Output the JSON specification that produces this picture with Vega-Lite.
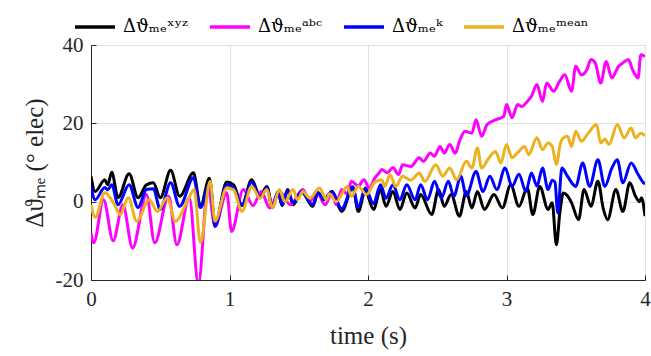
{
  "$schema": "https://vega.github.io/schema/vega-lite/v6.json",
  "width": 554,
  "height": 235,
  "autosize": {"type": "none"},
  "padding": {"left": 91, "top": 45, "right": 6, "bottom": 76},
  "background": "white",
  "datasets": {
    "xyz": [
      {"t":0.00,"v":6.5},{"t":0.03,"v":2.6},{"t":0.10,"v":5.6},{"t":0.12,"v":4.3},{"t":0.15,"v":7.5},{"t":0.195,"v":1.0},
      {"t":0.275,"v":7.1},{"t":0.34,"v":1.0},{"t":0.40,"v":4.3},{"t":0.45,"v":4.8},{"t":0.50,"v":1.0},{"t":0.575,"v":8.0},
      {"t":0.64,"v":1.4},{"t":0.74,"v":7.4},{"t":0.79,"v":-1.2},{"t":0.855,"v":6.0},{"t":0.895,"v":-5.9},{"t":0.98,"v":5.0},
      {"t":1.03,"v":4.3},{"t":1.09,"v":-1.0},{"t":1.16,"v":5.6},{"t":1.22,"v":1.4},{"t":1.27,"v":3.9},{"t":1.31,"v":-1.5},
      {"t":1.35,"v":2.5},{"t":1.38,"v":-1.0},{"t":1.42,"v":3.1},{"t":1.46,"v":-0.8},{"t":1.52,"v":2.6},{"t":1.60,"v":-1.2},
      {"t":1.64,"v":2.3},{"t":1.68,"v":0.5},{"t":1.74,"v":2.6},{"t":1.81,"v":-2.5},{"t":1.89,"v":3.6},{"t":1.93,"v":-2.5},
      {"t":1.98,"v":2.8},{"t":2.04,"v":-2.0},{"t":2.09,"v":3.1},{"t":2.13,"v":-1.2},{"t":2.18,"v":2.6},{"t":2.23,"v":-2.0},
      {"t":2.28,"v":2.2},{"t":2.34,"v":-1.6},{"t":2.38,"v":1.8},{"t":2.46,"v":-3.3},{"t":2.51,"v":3.1},{"t":2.55,"v":-1.2},
      {"t":2.60,"v":1.8},{"t":2.66,"v":-3.7},{"t":2.71,"v":2.6},{"t":2.75,"v":-1.6},{"t":2.79,"v":2.6},{"t":2.84,"v":-2.0},
      {"t":2.91,"v":1.8},{"t":2.97,"v":-1.6},{"t":3.03,"v":4.3},{"t":3.09,"v":-1.2},{"t":3.15,"v":3.5},{"t":3.19,"v":-3.3},
      {"t":3.24,"v":3.9},{"t":3.30,"v":-2.0},{"t":3.33,"v":-0.3},{"t":3.36,"v":-11.0},{"t":3.385,"v":-2.9},{"t":3.41,"v":2.2},
      {"t":3.44,"v":1.5},{"t":3.47,"v":-0.3},{"t":3.52,"v":-4.6},{"t":3.56,"v":3.1},{"t":3.61,"v":-1.2},{"t":3.66,"v":5.2},
      {"t":3.70,"v":-2.0},{"t":3.73,"v":-4.6},{"t":3.79,"v":3.1},{"t":3.84,"v":-2.5},{"t":3.89,"v":4.8},{"t":3.93,"v":1.5},
      {"t":3.96,"v":0.0},{"t":3.975,"v":1.0},{"t":4.0,"v":-3.7}
    ],
    "abc": [
      {"t":0.00,"v":-8.0},{"t":0.02,"v":-10.5},{"t":0.09,"v":0.5},{"t":0.16,"v":-10.0},{"t":0.23,"v":-0.8},{"t":0.30,"v":-11.8},
      {"t":0.40,"v":1.8},{"t":0.46,"v":-10.5},{"t":0.56,"v":1.4},{"t":0.62,"v":-11.0},{"t":0.71,"v":1.0},{"t":0.775,"v":-21.0},
      {"t":0.845,"v":3.9},{"t":0.895,"v":-6.3},{"t":0.98,"v":2.3},{"t":1.015,"v":-7.6},{"t":1.10,"v":3.1},{"t":1.17,"v":-1.0},
      {"t":1.23,"v":2.6},{"t":1.29,"v":-1.6},{"t":1.36,"v":2.6},{"t":1.44,"v":-0.8},{"t":1.53,"v":3.1},{"t":1.58,"v":0.0},
      {"t":1.63,"v":2.6},{"t":1.69,"v":-0.8},{"t":1.74,"v":2.2},{"t":1.77,"v":-0.8},{"t":1.81,"v":3.1},{"t":1.85,"v":2.0},
      {"t":1.88,"v":5.2},{"t":1.93,"v":4.0},{"t":1.97,"v":5.6},{"t":2.01,"v":3.5},{"t":2.05,"v":6.1},{"t":2.08,"v":7.3},
      {"t":2.10,"v":8.2},{"t":2.14,"v":7.4},{"t":2.18,"v":8.7},{"t":2.22,"v":6.9},{"t":2.25,"v":9.4},{"t":2.31,"v":9.0},
      {"t":2.37,"v":11.2},{"t":2.40,"v":10.3},{"t":2.45,"v":12.4},{"t":2.48,"v":11.6},{"t":2.52,"v":14.1},{"t":2.55,"v":12.4},
      {"t":2.59,"v":14.6},{"t":2.63,"v":12.4},{"t":2.66,"v":15.4},{"t":2.70,"v":18.0},{"t":2.75,"v":17.5},{"t":2.78,"v":20.9},
      {"t":2.82,"v":16.7},{"t":2.86,"v":19.7},{"t":2.92,"v":20.9},{"t":2.98,"v":21.8},{"t":3.00,"v":24.8},{"t":3.04,"v":21.4},
      {"t":3.08,"v":24.8},{"t":3.11,"v":24.3},{"t":3.15,"v":25.6},{"t":3.18,"v":26.9},{"t":3.22,"v":29.9},{"t":3.26,"v":25.6},
      {"t":3.29,"v":30.3},{"t":3.34,"v":28.2},{"t":3.38,"v":30.5},{"t":3.42,"v":32.4},{"t":3.47,"v":28.2},{"t":3.50,"v":34.6},
      {"t":3.54,"v":32.4},{"t":3.58,"v":33.7},{"t":3.61,"v":36.3},{"t":3.64,"v":35.5},{"t":3.68,"v":30.3},{"t":3.72,"v":35.8},
      {"t":3.76,"v":31.6},{"t":3.81,"v":34.6},{"t":3.84,"v":35.4},{"t":3.88,"v":36.3},{"t":3.91,"v":33.7},{"t":3.95,"v":31.6},
      {"t":3.97,"v":37.5},{"t":4.0,"v":37.1}
    ],
    "k": [
      {"t":0.00,"v":3.9},{"t":0.03,"v":0.5},{"t":0.10,"v":3.6},{"t":0.12,"v":3.0},{"t":0.15,"v":4.3},{"t":0.195,"v":-0.8},
      {"t":0.275,"v":4.3},{"t":0.34,"v":-1.5},{"t":0.40,"v":3.1},{"t":0.45,"v":3.3},{"t":0.50,"v":-2.0},{"t":0.575,"v":4.8},
      {"t":0.64,"v":-1.2},{"t":0.74,"v":6.1},{"t":0.79,"v":-1.5},{"t":0.86,"v":4.8},{"t":0.895,"v":-6.3},{"t":0.98,"v":4.3},
      {"t":1.03,"v":3.5},{"t":1.09,"v":-0.8},{"t":1.16,"v":5.0},{"t":1.22,"v":1.0},{"t":1.27,"v":3.5},{"t":1.31,"v":-1.5},
      {"t":1.35,"v":2.5},{"t":1.38,"v":-0.8},{"t":1.42,"v":2.8},{"t":1.46,"v":-0.3},{"t":1.52,"v":2.6},{"t":1.60,"v":-0.8},
      {"t":1.64,"v":2.3},{"t":1.68,"v":0.5},{"t":1.74,"v":2.6},{"t":1.81,"v":-1.8},{"t":1.89,"v":3.8},{"t":1.93,"v":-1.5},
      {"t":1.98,"v":3.5},{"t":2.04,"v":-0.5},{"t":2.09,"v":4.3},{"t":2.13,"v":0.9},{"t":2.18,"v":4.3},{"t":2.23,"v":0.5},
      {"t":2.28,"v":4.3},{"t":2.34,"v":0.5},{"t":2.38,"v":4.3},{"t":2.43,"v":0.5},{"t":2.48,"v":5.2},{"t":2.53,"v":0.9},
      {"t":2.58,"v":5.2},{"t":2.62,"v":1.4},{"t":2.67,"v":6.5},{"t":2.71,"v":1.5},{"t":2.78,"v":7.7},{"t":2.83,"v":2.6},
      {"t":2.88,"v":6.5},{"t":2.93,"v":3.1},{"t":2.99,"v":8.6},{"t":3.04,"v":3.9},{"t":3.09,"v":7.0},{"t":3.14,"v":2.6},
      {"t":3.18,"v":7.3},{"t":3.22,"v":4.0},{"t":3.26,"v":8.6},{"t":3.30,"v":3.1},{"t":3.33,"v":5.5},{"t":3.35,"v":5.0},
      {"t":3.37,"v":-2.9},{"t":3.40,"v":8.6},{"t":3.44,"v":6.5},{"t":3.50,"v":3.9},{"t":3.55,"v":9.9},{"t":3.60,"v":3.9},
      {"t":3.66,"v":10.7},{"t":3.71,"v":3.9},{"t":3.76,"v":8.5},{"t":3.80,"v":10.7},{"t":3.84,"v":4.8},{"t":3.90,"v":9.9},
      {"t":3.95,"v":7.0},{"t":3.99,"v":4.8},{"t":4.0,"v":4.5}
    ],
    "mean": [
      {"t":0.00,"v":-0.8},{"t":0.03,"v":-4.0},{"t":0.10,"v":2.3},{"t":0.17,"v":-0.8},{"t":0.21,"v":-3.3},{"t":0.27,"v":1.0},
      {"t":0.33,"v":-5.0},{"t":0.42,"v":0.5},{"t":0.48,"v":-2.5},{"t":0.55,"v":1.0},{"t":0.61,"v":-5.0},{"t":0.69,"v":-0.3},
      {"t":0.745,"v":3.1},{"t":0.79,"v":-10.5},{"t":0.86,"v":5.2},{"t":0.895,"v":-5.0},{"t":0.98,"v":3.5},{"t":1.03,"v":3.0},
      {"t":1.09,"v":-2.5},{"t":1.16,"v":3.9},{"t":1.22,"v":0.9},{"t":1.27,"v":3.1},{"t":1.31,"v":-1.6},{"t":1.36,"v":3.1},
      {"t":1.40,"v":0.0},{"t":1.46,"v":3.1},{"t":1.49,"v":0.5},{"t":1.53,"v":2.6},{"t":1.58,"v":0.9},{"t":1.65,"v":3.5},
      {"t":1.70,"v":0.5},{"t":1.72,"v":2.0},{"t":1.77,"v":0.0},{"t":1.85,"v":3.9},{"t":1.88,"v":1.4},{"t":1.93,"v":3.9},
      {"t":1.99,"v":1.8},{"t":2.05,"v":5.0},{"t":2.10,"v":5.6},{"t":2.12,"v":3.9},{"t":2.16,"v":6.9},{"t":2.20,"v":3.9},
      {"t":2.25,"v":6.5},{"t":2.31,"v":5.5},{"t":2.37,"v":7.3},{"t":2.41,"v":5.2},{"t":2.49,"v":9.4},{"t":2.54,"v":6.5},
      {"t":2.59,"v":8.6},{"t":2.64,"v":5.6},{"t":2.71,"v":10.3},{"t":2.75,"v":8.6},{"t":2.79,"v":13.7},{"t":2.82,"v":8.6},
      {"t":2.87,"v":11.0},{"t":2.92,"v":12.8},{"t":2.96,"v":9.9},{"t":3.00,"v":14.6},{"t":3.04,"v":11.2},{"t":3.08,"v":12.5},
      {"t":3.13,"v":14.1},{"t":3.16,"v":12.0},{"t":3.22,"v":16.3},{"t":3.26,"v":13.3},{"t":3.30,"v":15.0},{"t":3.33,"v":14.1},
      {"t":3.36,"v":9.5},{"t":3.39,"v":15.0},{"t":3.41,"v":16.3},{"t":3.44,"v":16.7},{"t":3.47,"v":14.1},{"t":3.50,"v":18.0},
      {"t":3.54,"v":15.4},{"t":3.59,"v":17.5},{"t":3.65,"v":19.7},{"t":3.68,"v":15.0},{"t":3.71,"v":16.0},{"t":3.74,"v":14.6},
      {"t":3.80,"v":19.7},{"t":3.85,"v":16.3},{"t":3.90,"v":18.8},{"t":3.93,"v":16.3},{"t":3.97,"v":17.5},{"t":4.0,"v":16.8}
    ]
  },
  "config": {
    "font": "Liberation Serif",
    "view": {"stroke": "#262626", "strokeWidth": 1},
    "axis": {
      "labelFont": "Liberation Serif",
      "titleFont": "Liberation Serif",
      "labelFontSize": 21,
      "titleFontSize": 25,
      "labelColor": "#262626",
      "titleColor": "#262626",
      "titleFontWeight": "normal",
      "domainColor": "#262626",
      "gridColor": "#e3e3e3",
      "gridWidth": 1,
      "tickColor": "#262626",
      "ticks": true,
      "tickSize": -5,
      "labelPadding": 13
    },
    "legend": {
      "labelFont": "DejaVu Serif",
      "labelFontSize": 18,
      "labelColor": "#000000"
    }
  },
  "encoding": {
    "x": {
      "field": "t", "type": "quantitative",
      "scale": {"domain": [0, 4], "nice": false},
      "axis": {"values": [0,1,2,3,4], "format": "d", "title": "time (s)", "titlePadding": 14, "labelFlush": false}
    },
    "y": {
      "field": "v", "type": "quantitative",
      "scale": {"domain": [-20, 40], "nice": false},
      "axis": {"values": [-20,0,20,40], "format": "d", "title": "Δϑₘₑ (° elec)", "titlePadding": 8, "labelExpr": "replace(datum.label, '−', '-')"}
    },
    "color": {
      "type": "nominal",
      "scale": {
        "domain": ["Δϑₘₑˣʸᶻ", "Δϑₘₑᵃᵇᶜ", "Δϑₘₑᵏ", "Δϑₘₑᵐᵉᵃⁿ"],
        "range": ["#000000", "#ff00ff", "#0000ff", "#edb120"]
      },
      "legend": {
        "title": null,
        "orient": "none",
        "direction": "horizontal",
        "legendX": -18,
        "legendY": -40,
        "symbolType": "stroke",
        "symbolStrokeWidth": 3.5,
        "symbolSize": 1600,
        "labelOffset": 6,
        "columnPadding": 14
      }
    }
  },
  "layer": [
    {"data": {"name": "xyz"}, "mark": {"type": "line", "strokeWidth": 3, "interpolate": "monotone", "clip": true}, "encoding": {"color": {"datum": "Δϑₘₑˣʸᶻ"}}},
    {"data": {"name": "abc"}, "mark": {"type": "line", "strokeWidth": 3, "interpolate": "monotone", "clip": true}, "encoding": {"color": {"datum": "Δϑₘₑᵃᵇᶜ"}}},
    {"data": {"name": "k"}, "mark": {"type": "line", "strokeWidth": 3, "interpolate": "monotone", "clip": true}, "encoding": {"color": {"datum": "Δϑₘₑᵏ"}}},
    {"data": {"name": "mean"}, "mark": {"type": "line", "strokeWidth": 3, "interpolate": "monotone", "clip": true}, "encoding": {"color": {"datum": "Δϑₘₑᵐᵉᵃⁿ"}}}
  ]
}
